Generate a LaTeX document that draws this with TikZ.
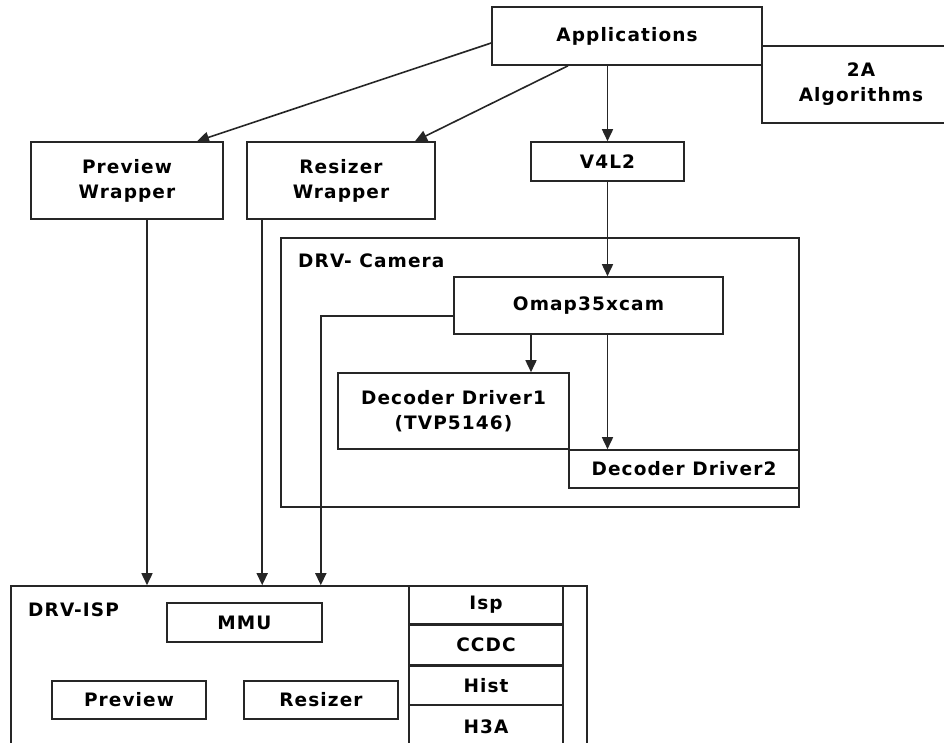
\documentclass[tikz,border=0pt]{standalone}
\usepackage{fontspec}
\setmainfont{DejaVu Sans}[LetterSpace=6]
\usepackage{tikz}
\usetikzlibrary{arrows.meta,calc,positioning}

\begin{document}
\begin{tikzpicture}[x=1pt,y=-1pt]

\tikzset{block/.style = {shape=rectangle,draw=black!85,line width=1.6pt,inner sep=0pt,align=center,font=\bfseries\fontsize{18.5}{25}\selectfont}}
\tikzset{label/.style = {anchor=west,inner sep=0pt,font=\bfseries\fontsize{18.5}{25}\selectfont}}
\tikzset{edge/.style = {->,> = {Triangle[length=12pt,width=11pt]},draw=black!85,line width=1.6pt}}

\useasboundingbox (0,0) rectangle (944,742);
\clip (0,0) rectangle (944,742);

% top level
\node[block,minimum width=270pt,minimum height=58pt] (apps) at (627,36) {Applications};
\node[block,minimum width=198pt,minimum height=77pt] (algo) at (861,84.5) {2A\\Algorithms};
\node[block,minimum width=192pt,minimum height=77pt] (prevw) at (127,180.5) {Preview\\Wrapper};
\node[block,minimum width=188pt,minimum height=77pt] (resw) at (341,180.5) {Resizer\\Wrapper};
\node[block,minimum width=153pt,minimum height=39pt] (v4l2) at (607.5,161.5) {V4L2};

% camera driver
\node[block,minimum width=518pt,minimum height=269pt] (cam) at (540,372.5) {};
\node[label] (camlbl) at (298,261) {DRV- Camera};
\node[block,minimum width=269pt,minimum height=57pt] (omap) at (588.5,305.5) {Omap35xcam};
\node[block,minimum width=231pt,minimum height=76pt] (dec1) at (453.5,411) {Decoder Driver1\\(TVP5146)};
\node[block,minimum width=230pt,minimum height=38pt] (dec2) at (684,469) {Decoder Driver2};

% isp driver
\node[block,minimum width=576pt,minimum height=220pt] (isp) at (299,696) {};
\node[label] (isplbl) at (28,610) {DRV-ISP};
\node[block,minimum width=155pt,minimum height=39pt] (mmu) at (244.5,622.5) {MMU};
\node[block,minimum width=154pt,minimum height=38pt] (prev) at (129,700) {Preview};
\node[block,minimum width=154pt,minimum height=38pt] (rsz) at (321,700) {Resizer};
\node[block,minimum width=154pt,minimum height=220pt] (col) at (486,696) {};
\node[block,minimum width=154pt,minimum height=38pt] (isprow) at (486,605) {Isp};
\node[block,minimum width=154pt,minimum height=39pt,below=0pt of isprow] (ccdc) {CCDC};
\node[block,minimum width=154pt,minimum height=39pt,below=0pt of ccdc] (hist) {Hist};
\node[block,draw=none,minimum width=154pt,minimum height=39pt,below=0pt of hist] (h3a) {H3A};

% edges
\draw[edge] ([yshift=-7pt]apps.west) -- ([xshift=70pt]prevw.north);
\draw[edge] ([xshift=-59pt]apps.south) -- ([xshift=74pt]resw.north);
\draw[edge] (apps.south -| v4l2.north) -- (v4l2.north);
\draw[edge] (v4l2.south) -- (v4l2.south |- omap.north);
\draw[edge] ([xshift=-57.5pt]omap.south) -- ([xshift=-57.5pt]omap.south |- dec1.north);
\draw[edge] (omap.south -| v4l2.south) -- (dec2.north -| v4l2.south);
\draw[edge] ([yshift=-10.5pt]omap.west) -| ([xshift=-2pt]isp.north -| mmu.east);
\draw[edge] ([xshift=20pt]prevw.south) -- ([xshift=20pt]prevw.south |- isp.north);
\draw[edge] ([xshift=16pt]resw.south west) -- ([xshift=16pt]resw.south west |- isp.north);
\end{tikzpicture}
\end{document}
